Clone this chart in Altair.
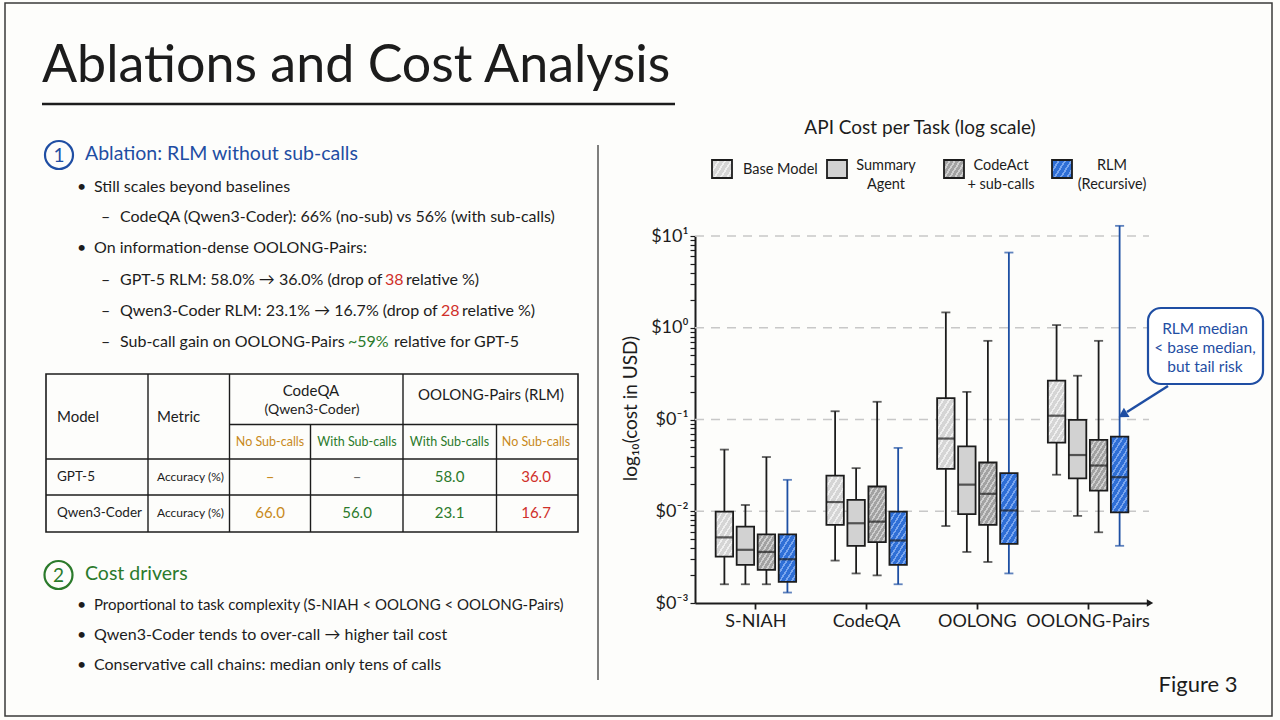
import math
import altair as alt
import pandas as pd

# ---------------------------------------------------------------- data
TASKS = ["S-NIAH", "CodeQA", "OOLONG", "OOLONG-Pairs"]
METHODS = ["Base Model", "Summary Agent", "CodeAct + sub-calls", "RLM (Recursive)"]

# cost per task in USD; rows follow TASKS, columns follow METHODS
WHISKER_LOW = [
    [0.0016, 0.0016, 0.0016, 0.0013],
    [0.0029, 0.0021, 0.0020, 0.0016],
    [0.0069, 0.0036, 0.0028, 0.0021],
    [0.025, 0.0089, 0.0059, 0.0042],
]
Q1 = [
    [0.0032, 0.0026, 0.0023, 0.0017],
    [0.0071, 0.0042, 0.0046, 0.0026],
    [0.029, 0.0093, 0.0071, 0.0044],
    [0.056, 0.0228, 0.0168, 0.0097],
]
MEDIAN = [
    [0.0052, 0.0038, 0.0036, 0.0030],
    [0.0126, 0.0074, 0.0077, 0.0048],
    [0.062, 0.0195, 0.0155, 0.0102],
    [0.110, 0.041, 0.0315, 0.0235],
]
Q3 = [
    [0.0099, 0.0068, 0.0056, 0.0056],
    [0.0245, 0.0133, 0.0186, 0.0099],
    [0.171, 0.051, 0.034, 0.026],
    [0.265, 0.099, 0.060, 0.065],
]
WHISKER_HIGH = [
    [0.047, 0.0117, 0.039, 0.022],
    [0.123, 0.0295, 0.156, 0.049],
    [1.47, 0.20, 0.72, 6.6],
    [1.07, 0.30, 0.72, 12.9],
]
GRID_DECADES = [0.01, 0.1, 1, 10]

# ablation table
TABLE_MODELS = ["GPT-5", "Qwen3-Coder"]
TABLE_METRIC = "Accuracy (%)"
TABLE_SUBHEADS = ["No Sub-calls", "With Sub-calls", "With Sub-calls", "No Sub-calls"]
TABLE_VALUES = [
    ["–", "–", "58.0", "36.0"],
    ["66.0", "56.0", "23.1", "16.7"],
]

# ---------------------------------------------------------------- style
FONT = "Lato"
INK = "#1c1c1c"
BG = "#fdfdfb"
BLUE = "#1f4ea3"
GREEN = "#2b7a2b"
RED = "#d0302a"
ORANGE = "#c88a1c"
GRID = "#c8c8c8"
RLM_LINE = "#1d4fa3"
BODY = 16

# plot area inside the 1280x720 canvas
L, T, W, H = 695, 236, 454, 367
PAD = {"left": L, "top": T, "right": 1280 - L - W, "bottom": 720 - T - H}

X_PAD_OUTER = 0.05
OFF_PAD_INNER, OFF_PAD_OUTER = 0.17, 0.72
BAND = W / (len(TASKS) + 2 * X_PAD_OUTER)
OFF_STEP = BAND / (len(METHODS) - OFF_PAD_INNER + 2 * OFF_PAD_OUTER)
BOX_W = OFF_STEP * (1 - OFF_PAD_INNER)


def px(x):
    return x - L


def py(y):
    return y - T


def hatch(base, stripe, w, h, period=5.0, line=1.6, angle=58):
    """Diagonal hatch as a hard-stop linear gradient for a w x h pixel box."""
    th = math.radians(angle)
    sn, cs = math.sin(th), math.cos(th)
    cmax = w * sn + h * cs
    k = cmax / (w * w * sn * sn + h * h * cs * cs)
    n = max(1, round(cmax / period))
    f = min(0.9, line / period)
    stops = []
    for i in range(n):
        a, b = i / n, (i + f) / n
        stops += [
            {"offset": a, "color": stripe},
            {"offset": b, "color": stripe},
            {"offset": b, "color": base},
            {"offset": (i + 1) / n, "color": base},
        ]
    return {"gradient": "linear", "x1": 0, "y1": 0,
            "x2": w * sn * k, "y2": h * cs * k, "stops": stops}


FILLS = {
    "Base Model": ("#d5d5d5", "#f0f0f0", 5.0),
    "Summary Agent": ("#d2d2d2", None, None),
    "CodeAct + sub-calls": ("#a2a2a2", "#cfcfcf", 4.2),
    "RLM (Recursive)": ("#2f6fd6", "#7aa6ee", 5.0),
}


def box_fill(method, w, h):
    base, stripe, period = FILLS[method]
    if stripe is None:
        return base
    return hatch(base, stripe, w, h, period=period)


dummy = pd.DataFrame({"k": [0]})


def text(s, x, y, size=BODY, color=INK, align="left", baseline="middle", weight="normal"):
    return alt.Chart(dummy).mark_text(
        text=s, fontSize=size, color=color, align=align, baseline=baseline,
        font=FONT, fontWeight=weight,
    ).encode(x=alt.value(px(x)), y=alt.value(py(y)))


def line(x1, y1, x2, y2, color=INK, width=1.5):
    return alt.Chart(dummy).mark_rule(color=color, strokeWidth=width).encode(
        x=alt.value(px(x1)), x2=alt.value(px(x2)),
        y=alt.value(py(y1)), y2=alt.value(py(y2)),
    )


def rect(x1, y1, x2, y2, fill=None, stroke=INK, width=1.5, radius=0):
    kw = dict(stroke=stroke, strokeWidth=width, cornerRadius=radius)
    if fill is None:
        kw["fillOpacity"] = 0
    else:
        kw["fill"] = fill
    return alt.Chart(dummy).mark_rect(**kw).encode(
        x=alt.value(px(x1)), x2=alt.value(px(x2)),
        y=alt.value(py(y1)), y2=alt.value(py(y2)),
    )


def symbol(shape, x, y, size, color, filled=True, width=2, angle=0):
    return alt.Chart(dummy).mark_point(
        shape=shape, size=size, filled=filled, color=color, opacity=1,
        strokeWidth=width, angle=angle,
    ).encode(x=alt.value(px(x)), y=alt.value(py(y)))


# ---------------------------------------------------------------- box plot
rows = []
for ti, task in enumerate(TASKS):
    for mi, m in enumerate(METHODS):
        rows.append(dict(task=task, method=m, lo=WHISKER_LOW[ti][mi], q1=Q1[ti][mi],
                         med=MEDIAN[ti][mi], q3=Q3[ti][mi], hi=WHISKER_HIGH[ti][mi]))
box_df = pd.DataFrame(rows)

x_enc = alt.X(
    "task:N", sort=TASKS,
    scale=alt.Scale(domain=TASKS, paddingInner=0, paddingOuter=X_PAD_OUTER),
    axis=alt.Axis(title=None, labelAngle=0, labelFontSize=18, tickSize=6, tickWidth=1.8,
                  labelPadding=3, domainWidth=2, domainColor=INK, tickColor=INK),
)
xo_enc = alt.XOffset(
    "method:N", sort=METHODS,
    scale=alt.Scale(domain=METHODS, paddingInner=OFF_PAD_INNER, paddingOuter=OFF_PAD_OUTER),
)
y_scale = alt.Scale(type="log", domain=[0.001, 10], nice=False)
y_ticks = [round(k * 10 ** e, 6) for e in range(-3, 1) for k in range(1, 10)] + [10]
y_axis = alt.Axis(
    values=y_ticks,
    labelExpr=("datum.value == 10 ? '$10¹' : datum.value == 1 ? '$10⁰' : "
               "datum.value == 0.1 ? '$0⁻¹' : datum.value == 0.01 ? '$0⁻²' : "
               "datum.value == 0.001 ? '$0⁻³' : ''"),
    labelOverlap=False, labelFontSize=18, labelPadding=2, tickSize=5, tickWidth=1.2,
    domainWidth=2, domainColor=INK, tickColor=INK, grid=False,
    title="log₁₀(cost in USD)", titleFontSize=19, titleFontWeight="normal",
    titleAngle=-90, titleX=px(630), titleY=py(408), titleAlign="center",
    titleBaseline="middle",
)
line_color = alt.Color("method:N", scale=alt.Scale(domain=METHODS,
                       range=[INK, INK, INK, RLM_LINE]), legend=None)

layers = []

# slide frame
layers.append(rect(5, 3, 1272, 716, stroke="#3a3a3a", width=1.5))

grid = alt.Chart(pd.DataFrame({"v": GRID_DECADES})).mark_rule(
    color=GRID, strokeWidth=1.5, strokeDash=[9, 7]
).encode(y=alt.Y("v:Q", scale=y_scale, axis=y_axis), x=alt.value(0), x2=alt.value(W))
layers.append(grid)

whiskers = alt.Chart(box_df).mark_rule(strokeWidth=1.8).encode(
    x=x_enc, xOffset=xo_enc, y=alt.Y("lo:Q", scale=y_scale, axis=y_axis), y2="hi:Q",
    color=line_color,
)
layers.append(whiskers)
for field in ["lo", "hi"]:
    layers.append(alt.Chart(box_df).mark_tick(thickness=1.8, size=9).encode(
        x=x_enc, xOffset=xo_enc, y=alt.Y(f"{field}:Q", scale=y_scale, axis=y_axis),
        color=line_color,
    ))

for r in rows:
    h = (math.log10(r["q3"]) - math.log10(r["q1"])) * H / 4
    layers.append(
        alt.Chart(box_df)
        .transform_filter(f"datum.task == '{r['task']}' && datum.method == '{r['method']}'")
        .mark_bar(fill=box_fill(r["method"], BOX_W, h), stroke=INK, strokeWidth=1.8)
        .encode(x=x_enc, xOffset=xo_enc,
                y=alt.Y("q1:Q", scale=y_scale, axis=y_axis), y2="q3:Q")
    )

layers.append(alt.Chart(box_df).mark_tick(thickness=2.2, size=BOX_W, color=INK).encode(
    x=x_enc, xOffset=xo_enc, y=alt.Y("med:Q", scale=y_scale, axis=y_axis),
))

# x-axis arrow tip
layers.append(symbol("triangle-right", 1150, 603, 55, INK))

# chart title and legend
layers.append(text("API Cost per Task (log scale)", 920, 128, size=19, align="center"))
legend_x = [712, 827, 944, 1052]
legend_labels = [["Base Model"], ["Summary", "Agent"], ["CodeAct", "+ sub-calls"],
                 ["RLM", "(Recursive)"]]
legend_text_x = [743, 886, 1001, 1112]
for m, x0, lab, tx in zip(METHODS, legend_x, legend_labels, legend_text_x):
    layers.append(rect(x0, 160, x0 + 20, 178, fill=box_fill(m, 20, 18), stroke=INK, width=1.8))
    if len(lab) == 1:
        layers.append(text(lab[0], tx, 170, size=14.5))
    else:
        layers.append(text(lab[0], tx, 166, size=14.5, align="center"))
        layers.append(text(lab[1], tx, 185, size=14.5, align="center"))

# callout
layers.append(line(1168, 386, 1127, 412, color=BLUE, width=2.5))
layers.append(symbol("triangle", 1124, 414, 120, BLUE, angle=239))
layers.append(rect(1148, 308, 1263, 384, fill="white", stroke=BLUE, width=2.2, radius=13))
for s, yy in zip(["RLM median", "< base median,", "but tail risk"], [329, 348, 367]):
    layers.append(text(s, 1205, yy, size=15.5, color=BLUE, align="center"))

# ---------------------------------------------------------------- left column
layers.append(text("Ablations and Cost Analysis", 42, 82, size=52, baseline="alphabetic"))
layers.append(line(42, 104, 675, 104, width=2.6))
layers.append(line(598, 145, 598, 680, color="#555555", width=1.5))

# section 1
layers.append(symbol("circle", 59, 155, 784, BLUE, filled=False, width=2.2))
layers.append(text("1", 59, 156, size=19, color=BLUE, align="center"))
layers.append(text("Ablation: RLM without sub-calls", 85, 154, size=19.5, color=BLUE))
layers.append(text("•", 77, 187))
layers.append(text("Still scales beyond baselines", 94, 187))
layers.append(text("–", 101, 217))
layers.append(text("CodeQA (Qwen3-Coder): 66% (no-sub) vs 56% (with sub-calls)", 120, 217))
layers.append(text("•", 77, 248))
layers.append(text("On information-dense OOLONG-Pairs:", 94, 248))
layers.append(text("–", 101, 280))
layers.append(text("GPT-5 RLM: 58.0% → 36.0% (drop of", 120, 280))
layers.append(text("38", 385, 280, color=RED))
layers.append(text("relative %)", 406, 280))
layers.append(text("–", 101, 311))
layers.append(text("Qwen3-Coder RLM: 23.1% → 16.7% (drop of", 120, 311))
layers.append(text("28", 441, 311, color=RED))
layers.append(text("relative %)", 462, 311))
layers.append(text("–", 101, 342))
layers.append(text("Sub-call gain on OOLONG-Pairs", 120, 342))
layers.append(text("~59%", 348, 342, color=GREEN))
layers.append(text("relative for GPT-5", 394, 342))

# table grid
layers.append(rect(46, 374, 578, 532, width=1.6))
for xx in [148, 229.5, 403]:
    layers.append(line(xx, 374, xx, 532, width=1.4))
for xx in [310.5, 496.5]:
    layers.append(line(xx, 424.5, xx, 532, width=1.4))
layers.append(line(229.5, 424.5, 578, 424.5, width=1.4))
for yy in [459, 495]:
    layers.append(line(46, yy, 578, yy, width=1.4))

layers.append(text("Model", 57, 417, size=15))
layers.append(text("Metric", 157, 417, size=15))
layers.append(text("CodeQA", 311, 391, size=15, align="center"))
layers.append(text("(Qwen3-Coder)", 312, 410, size=14, align="center"))
layers.append(text("OOLONG-Pairs (RLM)", 491, 395, size=15, align="center"))

col_x = [270, 357, 449.5, 536]
col_colors = [ORANGE, GREEN, GREEN, RED]
sub_colors = [ORANGE, GREEN, GREEN, ORANGE]
for s, cx, c in zip(TABLE_SUBHEADS, col_x, sub_colors):
    layers.append(text(s, cx, 442, size=12.5, color=c, align="center"))
for model, vals, yy in zip(TABLE_MODELS, TABLE_VALUES, [477, 513]):
    layers.append(text(model, 57, yy, size=13.5))
    layers.append(text(TABLE_METRIC, 157, yy, size=12))
    for v, cx, c in zip(vals, col_x, col_colors):
        color = "#6b6b6b" if (v == "–" and c == GREEN) else c
        layers.append(text(v, cx, yy, size=15, color=color, align="center"))

# section 2
layers.append(symbol("circle", 58.5, 575, 784, GREEN, filled=False, width=2.2))
layers.append(text("2", 58.5, 576, size=19, color=GREEN, align="center"))
layers.append(text("Cost drivers", 85, 574, size=19.5, color=GREEN))
for s, yy, sz in zip([
    "Proportional to task complexity (S-NIAH < OOLONG < OOLONG-Pairs)",
    "Qwen3-Coder tends to over-call → higher tail cost",
    "Conservative call chains: median only tens of calls",
], [605, 635, 665], [15, BODY, BODY]):
    layers.append(text("•", 77, yy))
    layers.append(text(s, 94, yy, size=sz))

layers.append(text("Figure 3", 1198, 685, size=22, align="center"))

chart = (
    alt.layer(*layers)
    .properties(width=W, height=H, padding=PAD,
                autosize=alt.AutoSizeParams(type="none"), background=BG)
    .configure_view(strokeWidth=0)
    .configure_axis(labelFont=FONT, titleFont=FONT, labelColor=INK, titleColor=INK)
)

chart.save("out.html", embed_options={"renderer": "svg", "actions": False})
